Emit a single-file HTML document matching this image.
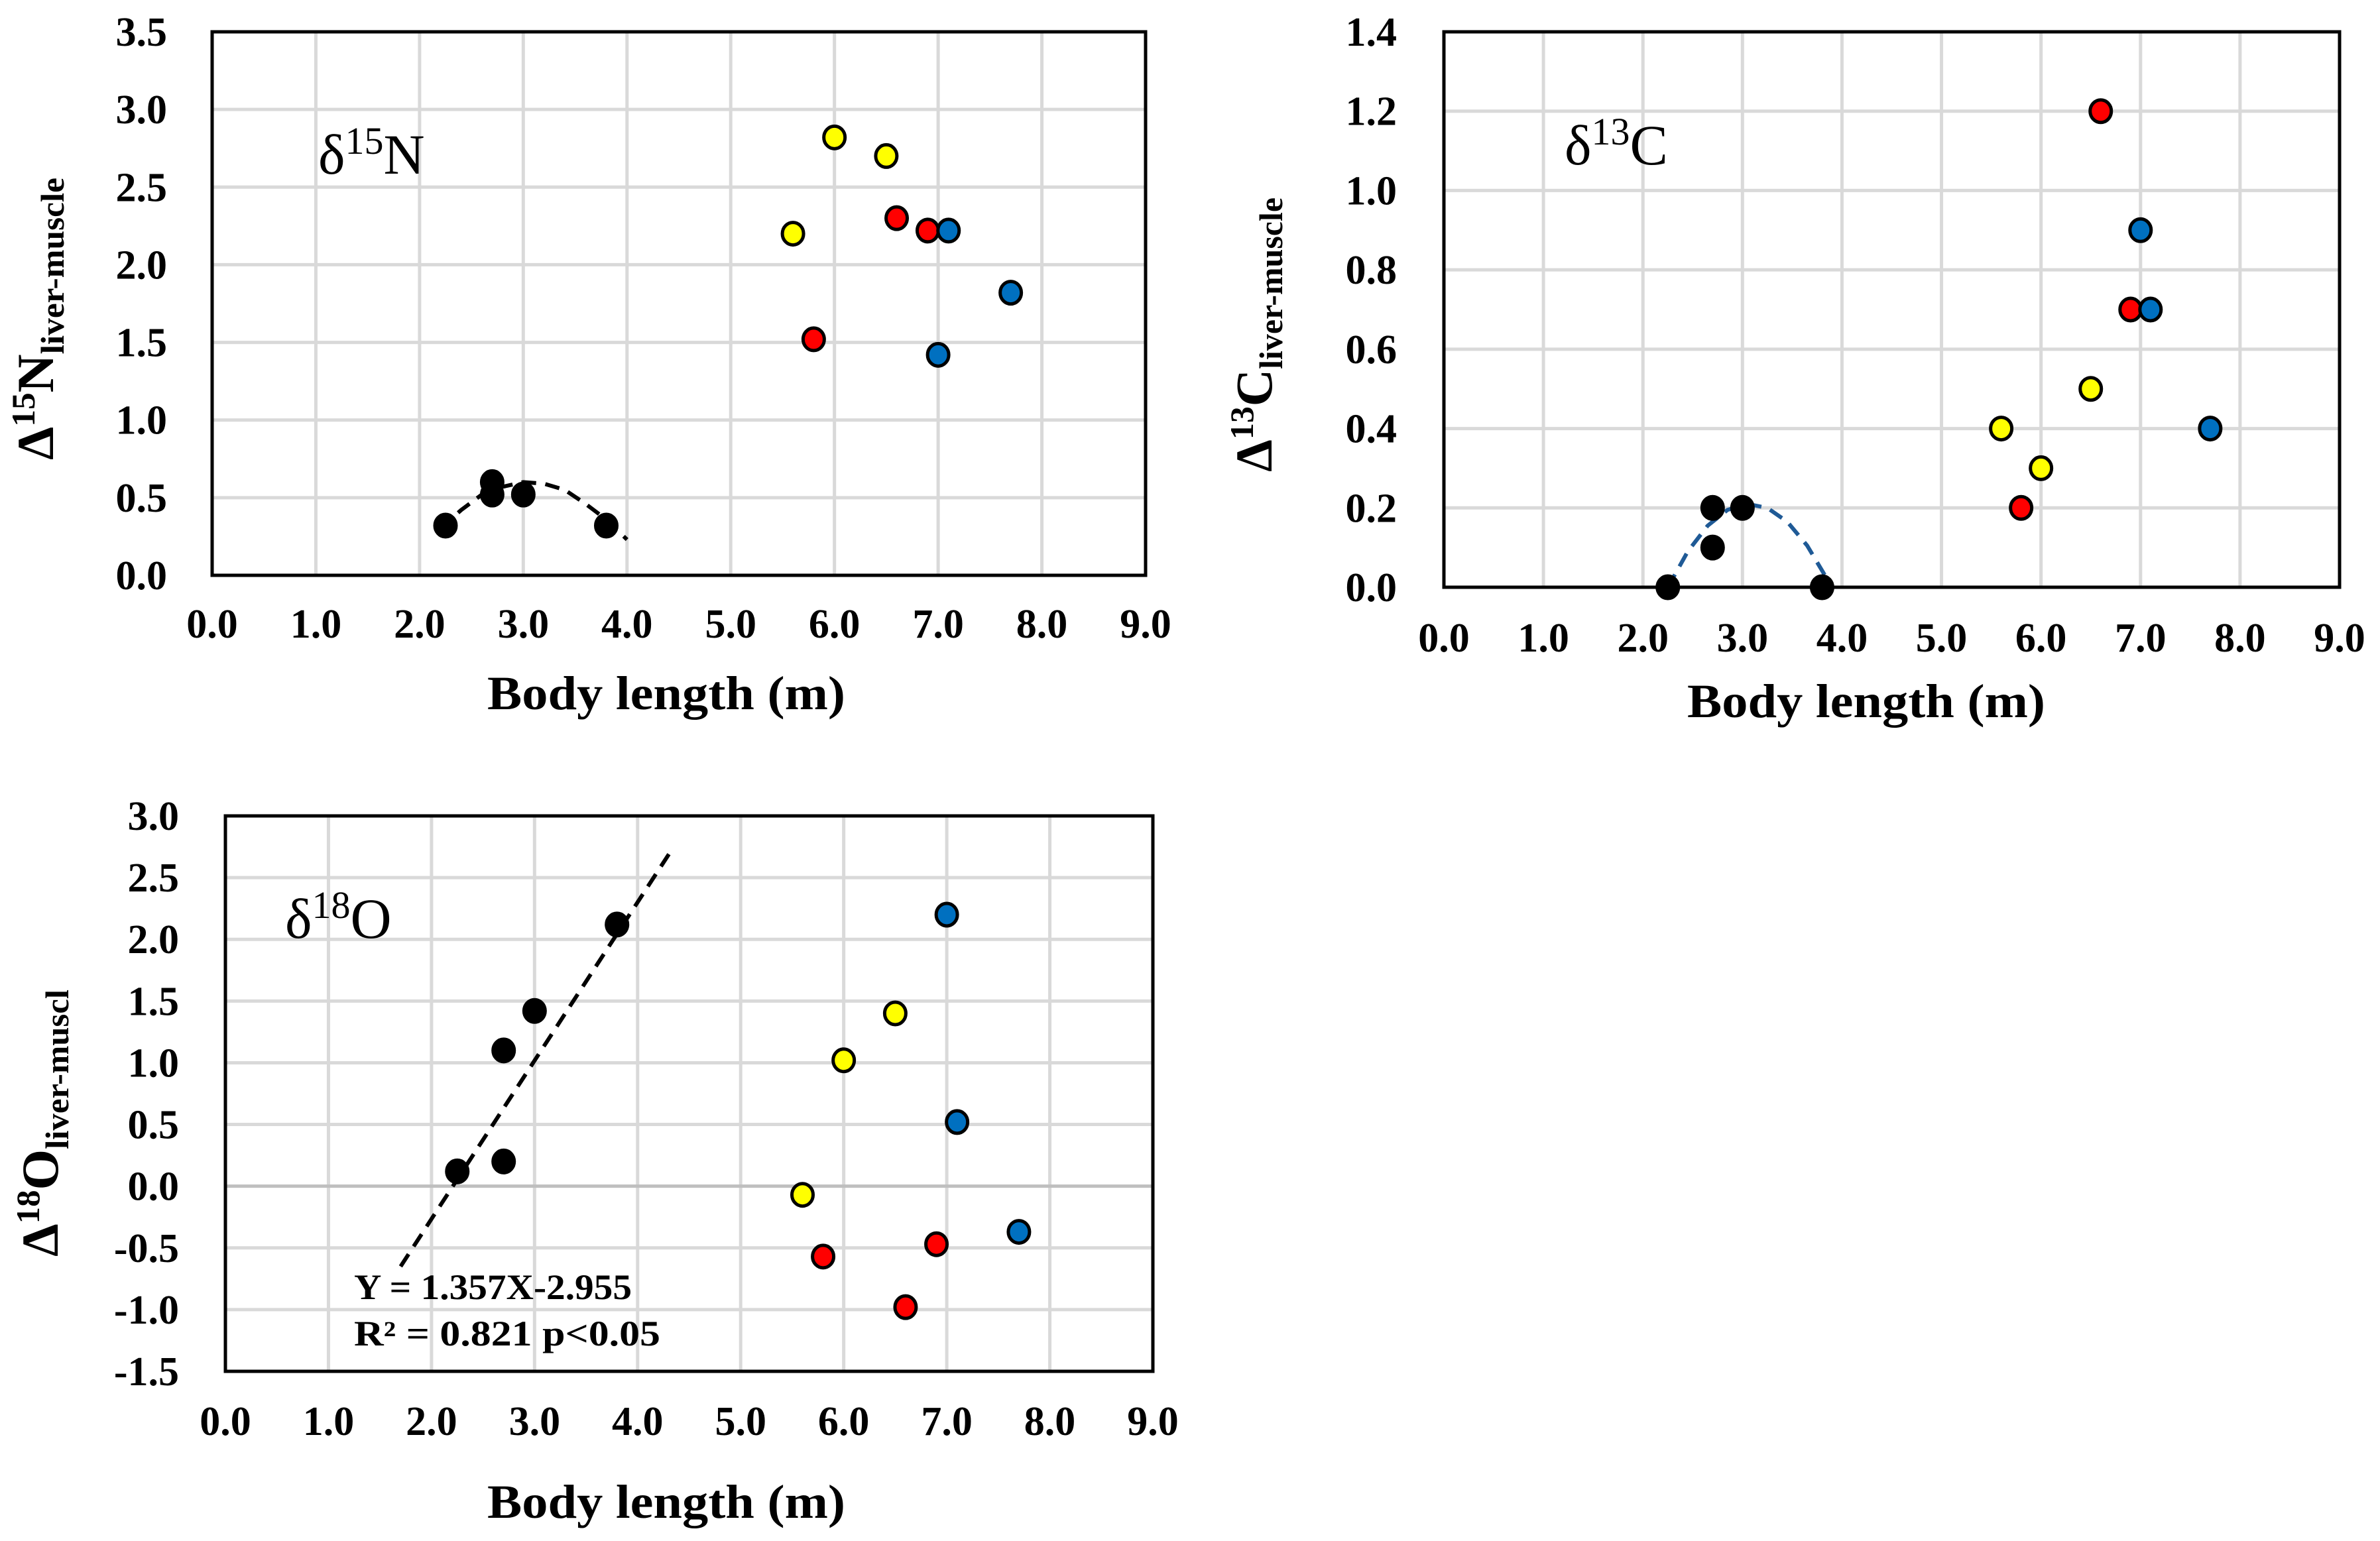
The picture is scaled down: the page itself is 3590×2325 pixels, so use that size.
<!DOCTYPE html>
<html><head><meta charset="utf-8"><style>
html,body{margin:0;padding:0;background:#fff;}
svg{display:block;}
text{font-family:"Liberation Serif",serif;}
</style></head><body>
<svg id="fig" width="3590" height="2325" viewBox="0 0 3590 2325" xmlns="http://www.w3.org/2000/svg">
<rect width="3590" height="2325" fill="#fff"/>
</svg>
<script>
// ---- Panel N (delta15N) data ----
const nBlackX=[2.25,2.7,2.7,3.0,3.8];
const nBlackY=[0.32,0.6,0.52,0.52,0.32];
const nYellowX=[5.6,6.0,6.5];
const nYellowY=[2.2,2.82,2.7];
const nRedX=[5.8,6.6,6.9];
const nRedY=[1.52,2.3,2.22];
const nBlueX=[7.0,7.1,7.7];
const nBlueY=[1.42,2.22,1.82];
const nTrendX=[2.2,2.4,2.6,2.8,3.0,3.2,3.4,3.6,3.8,4.0];
const nTrendY=[0.30,0.42,0.52,0.57,0.60,0.59,0.55,0.46,0.36,0.23];
// ---- Panel C (delta13C) data ----
const cBlackX=[2.25,2.7,2.7,3.0,3.8];
const cBlackY=[0.0,0.2,0.1,0.2,0.0];
const cYellowX=[5.6,6.0,6.5];
const cYellowY=[0.4,0.3,0.5];
const cRedX=[5.8,6.6,6.9];
const cRedY=[0.2,1.2,0.7];
const cBlueX=[7.0,7.1,7.7];
const cBlueY=[0.9,0.7,0.4];
const cTrendX=[2.25,2.45,2.65,2.85,3.05,3.25,3.45,3.65,3.9];
const cTrendY=[0.0,0.09,0.155,0.195,0.21,0.20,0.165,0.105,0.0];
// ---- Panel O (delta18O) data ----
const oBlackX=[2.25,2.7,2.7,3.0,3.8];
const oBlackY=[0.12,0.2,1.1,1.42,2.12];
const oYellowX=[5.6,6.0,6.5];
const oYellowY=[-0.07,1.02,1.4];
const oRedX=[5.8,6.6,6.9];
const oRedY=[-0.57,-0.98,-0.47];
const oBlueX=[7.0,7.1,7.7];
const oBlueY=[2.2,0.52,-0.37];
const oTrendX=[1.7,4.35];
const oTrendY=[-0.65,2.75];
// ---- ticks ----
const xTicks=[0,1,2,3,4,5,6,7,8,9];
const nTicks=[0,0.5,1,1.5,2,2.5,3,3.5];
const cTicks=[0,0.2,0.4,0.6,0.8,1.0,1.2,1.4];
const oTicks=[-1.5,-1,-0.5,0,0.5,1,1.5,2,2.5,3];

const NS='http://www.w3.org/2000/svg';
const svg=document.getElementById('fig');
function mk(tag,attrs,parent){const e=document.createElementNS(NS,tag);for(const k in attrs)e.setAttribute(k,attrs[k]);(parent||svg).appendChild(e);return e;}

function panel(key,box,yTicks,yDec,labelRight,xBase,zeroLine){
  const g=mk('g',{});
  
  
  const yMin=yTicks[0],yMax=yTicks[yTicks.length-1];
  const sx=v=>box.l+(v-0)/(9-0)*(box.r-box.l);
  const sy=v=>box.b-(v-yMin)/(yMax-yMin)*(box.b-box.t);
  xTicks.forEach(t=>{ if(t>0&&t<9){const l=mk('line',{x1:sx(t),x2:sx(t),y1:box.t,y2:box.b,stroke:'#d9d9d9','stroke-width':5},g);
    
    }});
  yTicks.forEach(t=>{ if(t>yMin&&t<yMax){const z=(zeroLine&&t===0);const l=mk('line',{x1:box.l,x2:box.r,y1:sy(t),y2:sy(t),stroke:z?'#bfbfbf':'#d9d9d9','stroke-width':5},g);
    
    }});
  const fr=mk('rect',{x:box.l,y:box.t,width:box.r-box.l,height:box.b-box.t,fill:'none',stroke:'#000','stroke-width':5},g);
  
  
  yTicks.forEach(t=>{const tx=mk('text',{x:labelRight,y:sy(t)+21,'text-anchor':'end','font-size':62,'font-weight':'bold'},g);
    tx.textContent=t.toFixed(yDec);
    
    });
  xTicks.forEach(t=>{const tx=mk('text',{x:sx(t),y:xBase,'text-anchor':'middle','font-size':62,'font-weight':'bold'},g);
    tx.textContent=t.toFixed(1);
    
    });
  return {g,sx,sy};
}
function trend(p,xs,ys,color,name){
  const d=xs.map((x,i)=>(i?'L':'M')+p.sx(x).toFixed(1)+','+p.sy(ys[i]).toFixed(1)).join(' ');
  const e=mk('path',{d:d,fill:'none',stroke:color,'stroke-width':6,'stroke-dasharray':'22,14'},p.g);
  
  
}
function pts(p,xs,ys,fill,name){
  xs.forEach((x,i)=>{const c=mk('ellipse',{cx:p.sx(x),cy:p.sy(ys[i]),rx:16,ry:17,fill:fill,stroke:'#000','stroke-width':5},p.g);
    
    });
}
function xTitle(x,y){const t=mk('text',{x:x,y:y,'text-anchor':'middle','font-size':72,'font-weight':'bold',textLength:540,lengthAdjust:'spacingAndGlyphs'});
  t.textContent='Body length (m)';
  
  }
function yTitle(x,y,len,iso,el,sub){
  const t=mk('text',{transform:`translate(${x},${y}) rotate(-90)`,'font-weight':'bold',textLength:len,lengthAdjust:'spacingAndGlyphs'});
  
  
  const a=mk('tspan',{'font-size':78},t);a.textContent='Δ';
  const b=mk('tspan',{'font-size':50,dy:-28},t);b.textContent=iso;
  const c=mk('tspan',{'font-size':78,dy:28},t);c.textContent=el;
  const d=mk('tspan',{'font-size':50,dy:16},t);d.textContent=sub;
}
function label(x,y,iso,el,name){
  const t=mk('text',{x:x,y:y,'font-size':86});
  
  
  const a=mk('tspan',{},t);a.textContent='δ';
  const b=mk('tspan',{'font-size':58,dy:-30},t);b.textContent=iso;
  const c=mk('tspan',{dy:30},t);c.textContent=el;
}

// Panel 1
const p1=panel('n15',{l:320,r:1728,t:48,b:868},nTicks,1,252,962,false);
trend(p1,nTrendX,nTrendY,'#000','n15-trendline');
pts(p1,nBlackX,nBlackY,'#000','n15-point-black');
pts(p1,nYellowX,nYellowY,'#ffff00','n15-point-yellow');
pts(p1,nRedX,nRedY,'#ff0000','n15-point-red');
pts(p1,nBlueX,nBlueY,'#0070c0','n15-point-blue');
label(480,262,'15','N','n15-panel-label');
xTitle(1005,1070);
yTitle(80,694,426,'15','N','liver-muscle');

// Panel 2
const p2=panel('c13',{l:2178,r:3529,t:48,b:886},cTicks,1,2107,983,false);
trend(p2,cTrendX,cTrendY,'#1f5a96','c13-trendline');
pts(p2,cBlackX,cBlackY,'#000','c13-point-black');
pts(p2,cYellowX,cYellowY,'#ffff00','c13-point-yellow');
pts(p2,cRedX,cRedY,'#ff0000','c13-point-red');
pts(p2,cBlueX,cBlueY,'#0070c0','c13-point-blue');
label(2360,248,'13','C','c13-panel-label');
xTitle(2815,1082);
yTitle(1918,712,414,'13','C','liver-muscle');

// Panel 3
const p3=panel('o18',{l:340,r:1739,t:1231,b:2069},oTicks,1,270,2165,true);
trend(p3,oTrendX,oTrendY,'#000','o18-regression-line');
pts(p3,oBlackX,oBlackY,'#000','o18-point-black');
pts(p3,oYellowX,oYellowY,'#ffff00','o18-point-yellow');
pts(p3,oRedX,oRedY,'#ff0000','o18-point-red');
pts(p3,oBlueX,oBlueY,'#0070c0','o18-point-blue');
label(430,1415,'18','O','o18-panel-label');
xTitle(1005,2290);
yTitle(87,1896,403,'18','O','liver-muscl');
const eq=mk('text',{x:534,y:1960,'font-size':54,'font-weight':'bold',textLength:419,lengthAdjust:'spacingAndGlyphs'});
eq.textContent='Y = 1.357X-2.955';


const r2=mk('text',{x:534,y:2030,'font-size':54,'font-weight':'bold',textLength:462,lengthAdjust:'spacingAndGlyphs','xml:space':'preserve'});
r2.textContent='R² = 0.821  p<0.05';


</script>
</body></html>
